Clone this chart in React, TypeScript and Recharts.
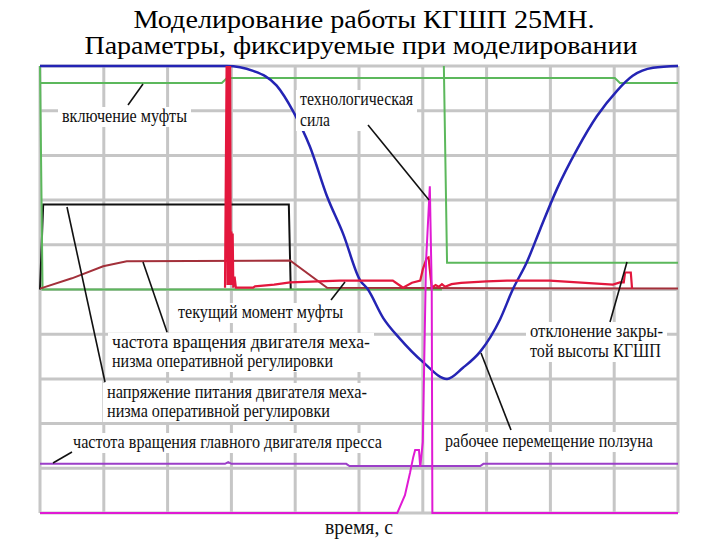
import React from "react";
import { LineChart, Line, XAxis, YAxis, CartesianGrid } from "recharts";

const X_TICKS = [0, 1, 2, 3, 4, 5, 6, 7, 8, 9, 10];
const Y_TICKS = [0, 1, 2, 3, 4, 5, 6, 7, 8, 9, 10];

// рабочее перемещение ползуна
const SLIDE_T = [0, 2.93, 3.34, 3.71, 3.97, 4.23, 4.5, 4.75, 5.02, 5.13, 5.38, 5.64, 6.0, 6.38, 6.63, 6.9, 7.21, 7.41, 7.63, 7.84, 8.1, 8.42, 8.73, 9.04, 9.29, 9.61, 10];
const SLIDE_V = [10, 10, 9.89, 9.56, 8.98, 8.2, 7.08, 6.25, 5.2, 5.02, 4.36, 3.9, 3.38, 3.0, 3.25, 3.61, 4.33, 5.0, 5.61, 6.35, 7.24, 8.14, 8.88, 9.44, 9.78, 9.96, 10];

// включение муфты
const CLUTCH_T = [0, 2.85, 2.93, 9.01, 9.09, 10];
const CLUTCH_V = [9.62, 9.62, 9.73, 9.73, 9.62, 9.62];

// отклонение закрытой высоты КГШП
const SHUT_T = [0, 0.04, 6.3, 6.31, 6.33, 6.38, 10];
const SHUT_V = [10, 5.0, 5.0, null, 10, 5.6, 5.6];

// напряжение питания двигателя механизма оперативной регулировки
const VOLT_T = [0, 0.05, 3.9, 3.93];
const VOLT_V = [5.0, 6.9, 6.9, 5.0];

// частота вращения двигателя механизма оперативной регулировки
const MSPEED_T = [0, 0.5, 0.99, 1.36, 3.92, 4.5, 10];
const MSPEED_V = [5.02, 5.25, 5.52, 5.63, 5.65, 5.04, 5.02];

// текущий момент муфты
const TORQUE_T = [2.9, 2.925, 2.94, 2.955, 2.965, 2.98, 2.99, 3.0, 3.01, 3.02, 3.03, 3.05, 3.07, 3.34, 3.37, 3.67, 3.92, 4.7, 5.53, 5.64, 5.69, 5.83, 5.96, 6.0, 6.06, 6.09, 6.14, 6.2, 6.25, 6.3, 6.35, 6.45, 6.6, 7.0, 7.32, 7.99, 8.98, 9.09, 9.15, 9.17, 9.26, 9.28];
const TORQUE_V = [5.04, 10, 5.1, 10, 5.1, 10, 5.1, 6.3, 5.1, 6.25, 5.04, 5.29, 5.04, 5.04, 5.07, 5.11, 5.16, 5.2, 5.2, 5.09, 5.04, 5.15, 5.2, 5.45, 5.7, 5.72, 5.04, 5.1, 5.06, 5.12, 5.06, 5.12, 5.15, 5.18, 5.2, 5.2, 5.11, 5.16, 5.16, 5.38, 5.38, 5.02];

// технологическая сила
const FORCE_T = [0, 5.6, 5.72, 5.8, 5.85, 5.88, 5.94, 5.96, 6.0, 6.05, 6.11, 6.14, 6.15, 10];
const FORCE_V = [0, 0, 0.4, 0.9, 1.25, 1.41, 1.41, 1.03, 1.59, 5.6, 7.31, 5.0, 0, 0];

// частота вращения главного двигателя пресса
const MAIN_T = [0, 2.9, 2.95, 3.0, 4.8, 4.85, 6.9, 6.95, 10];
const MAIN_V = [1.1, 1.1, 1.14, 1.1, 1.1, 1.05, 1.05, 1.1, 1.1];

const zip = (t: number[], v: (number | null)[]) => t.map((x, i) => ({ t: x, v: v[i] }));

const FONT = '"Liberation Serif", "DejaVu Serif", "Times New Roman", serif';

function Note({ x, y, lines, widths, lh = 19, size = 18 }: { x: number; y: number; lines: string[]; widths: number[]; lh?: number; size?: number }) {
  const w = Math.max(...widths);
  return (
    <g>
      <rect x={x - 4} y={y - size + 3} width={w + 8} height={lh * (lines.length - 1) + size + 2} fill="#fff" />
      {lines.map((s, i) => (
        <text key={i} x={x} y={y + i * lh} fontSize={size} style={{ fontFamily: FONT }} fill="#111" textLength={widths[i]} lengthAdjust="spacingAndGlyphs">
          {s}
        </text>
      ))}
    </g>
  );
}

const lead = { stroke: "#111", strokeWidth: 1.6 };

export default function App() {
  return (
    <div style={{ position: "absolute", left: 0, top: 0, width: 720, height: 540, background: "#fff" }}>
      <LineChart width={720} height={540} margin={{ top: 66, right: 42, bottom: 27, left: 40 }}>
        <CartesianGrid stroke="#c6c6c6" strokeWidth={3} />
        <XAxis type="number" dataKey="t" domain={[0, 10]} ticks={X_TICKS} hide allowDuplicatedCategory={false} />
        <YAxis type="number" domain={[0, 10]} ticks={Y_TICKS} hide />
        <Line data={zip(VOLT_T, VOLT_V)} dataKey="v" stroke="#111" strokeWidth={2} dot={false} isAnimationActive={false} />
        <Line data={zip(SHUT_T, SHUT_V)} dataKey="v" stroke="#5cb85c" strokeWidth={2} dot={false} isAnimationActive={false} />
        <Line data={zip(MSPEED_T, MSPEED_V)} dataKey="v" stroke="#a3303a" strokeWidth={2} dot={false} isAnimationActive={false} />
        <Line data={zip(CLUTCH_T, CLUTCH_V)} dataKey="v" stroke="#5cb85c" strokeWidth={2} dot={false} isAnimationActive={false} />
        <Line data={zip(MAIN_T, MAIN_V)} dataKey="v" stroke="#9b3fc8" strokeWidth={2} dot={false} isAnimationActive={false} />
        <Line data={zip(SLIDE_T, SLIDE_V)} dataKey="v" type="monotone" stroke="#2424b4" strokeWidth={2.5} dot={false} isAnimationActive={false} />
        <Line data={zip(TORQUE_T, TORQUE_V)} dataKey="v" stroke="#e3173d" strokeWidth={2.2} dot={false} isAnimationActive={false} />
        <Line data={zip(FORCE_T, FORCE_V)} dataKey="v" stroke="#e01ad4" strokeWidth={2} dot={false} isAnimationActive={false} />
      </LineChart>
      <svg width={720} height={540} style={{ position: "absolute", left: 0, top: 0, pointerEvents: "none" }}>
        <text x={364} y={28} textAnchor="middle" fontSize={25} style={{ fontFamily: FONT }} fill="#000" textLength={461} lengthAdjust="spacingAndGlyphs">
          Моделирование работы КГШП 25МН.
        </text>
        <text x={361} y={54} textAnchor="middle" fontSize={25} style={{ fontFamily: FONT }} fill="#000" textLength={553} lengthAdjust="spacingAndGlyphs">
          Параметры, фиксируемые при моделировании
        </text>

        <Note x={62} y={122} lines={["включение муфты"]} widths={[125]} />
        <Note x={300} y={105} lines={["технологическая", "сила"]} widths={[113, 30]} lh={21} />
        <Note x={178} y={318} lines={["текущий момент муфты"]} widths={[165]} />
        <Note x={112} y={348} lines={["частота вращения двигателя меха-", "низма оперативной регулировки"]} widths={[258, 221]} />
        <Note x={107} y={398} lines={["напряжение питания двигателя меха-", "низма оперативной регулировки"]} widths={[260, 223]} />
        <Note x={73} y={448} lines={["частота вращения главного двигателя пресса"]} widths={[309]} />
        <Note x={445} y={447} lines={["рабочее перемещение ползуна"]} widths={[208]} />
        <Note x={530} y={337} lines={["отклонение  закры-", "той высоты КГШП"]} widths={[133, 131]} lh={20} />

        <line x1={128} y1={105} x2={143} y2={84} {...lead} />
        <line x1={368} y1={125} x2={429} y2={200} {...lead} />
        <line x1={331} y1={300} x2={345} y2={282} {...lead} />
        <line x1={143} y1={262} x2={167} y2={332} {...lead} />
        <line x1={67} y1={207} x2={105} y2={382} {...lead} />
        <line x1={53} y1={463} x2={72} y2={452} {...lead} />
        <line x1={481} y1={353} x2={511} y2={430} {...lead} />
        <line x1={610} y1={322} x2={627} y2={262} {...lead} />

        <text x={359} y={534} textAnchor="middle" fontSize={21} style={{ fontFamily: FONT }} fill="#111" textLength={68} lengthAdjust="spacingAndGlyphs">
          время, с
        </text>
      </svg>
    </div>
  );
}
